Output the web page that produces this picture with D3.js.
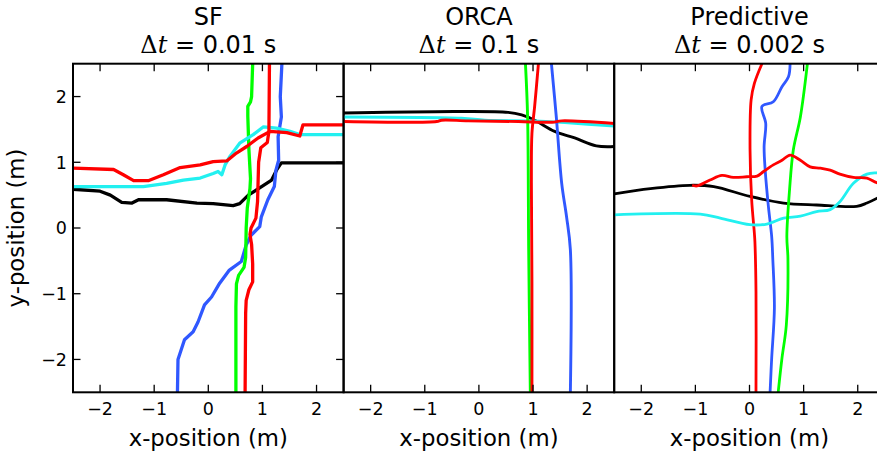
<!DOCTYPE html>
<html>
<head>
<meta charset="utf-8">
<script src="https://cdn.jsdelivr.net/npm/d3@7"></script>
<style>
  body { margin: 0; background: #fff; }
  svg { display: block; font-family: "DejaVu Sans", sans-serif; }
</style>
</head>
<body>
<svg id="chart"></svg>
<script>
// panel titles
const panelNames = ["SF", "ORCA", "Predictive"];
const panelSteps = ["0.01", "0.1", "0.002"];
const xTicks = [-2, -1, 0, 1, 2];
const yTicks = [-2, -1, 0, 1, 2];

// ---- SF trajectories [x, y] in m ----
const sfBlack = [[-2.5,0.59],[-2.0,0.56],[-1.81,0.50],[-1.6,0.39],[-1.41,0.38],[-1.29,0.43],[-0.77,0.43],[-0.21,0.38],[0.09,0.37],[0.46,0.34],[0.58,0.37],[0.74,0.50],[1.02,0.65],[1.17,0.73],[1.26,0.88],[1.35,0.99],[2.5,0.99]];
const sfCyan = [[-2.5,0.63],[-1.2,0.63],[-0.77,0.68],[-0.46,0.73],[-0.15,0.76],[0.09,0.83],[0.18,0.86],[0.25,0.81],[0.31,0.96],[0.40,1.09],[0.58,1.29],[0.83,1.42],[1.02,1.54],[1.26,1.52],[1.51,1.47],[1.69,1.42],[2.5,1.42]];
const sfBlue = [[-0.57,-2.5],[-0.56,-2.0],[-0.44,-1.7],[-0.28,-1.58],[-0.19,-1.43],[-0.07,-1.17],[0.06,-1.05],[0.21,-0.84],[0.39,-0.64],[0.61,-0.51],[0.70,-0.26],[0.79,-0.11],[0.95,0.02],[0.98,0.17],[1.10,0.43],[1.22,0.63],[1.25,0.88],[1.30,1.03],[1.29,1.39],[1.35,1.69],[1.33,2.0],[1.36,2.5]];
const sfGreen = [[0.51,-2.5],[0.51,-1.2],[0.52,-0.85],[0.56,-0.72],[0.66,-0.6],[0.69,-0.45],[0.70,0.0],[0.72,0.3],[0.77,0.6],[0.78,0.75],[0.75,1.2],[0.73,1.7],[0.73,1.85],[0.78,1.92],[0.80,2.0],[0.82,2.5]];
const sfRedV = [[0.68,-2.5],[0.69,-1.3],[0.70,-1.1],[0.75,-0.94],[0.82,-0.82],[0.82,-0.55],[0.80,-0.25],[0.77,-0.1],[0.79,0.0],[0.88,0.15],[0.91,0.4],[0.93,1.0],[0.97,1.22],[1.09,1.3],[1.12,1.47],[1.13,2.5]];
const sfRedH = [[-2.5,0.91],[-1.75,0.89],[-1.57,0.81],[-1.38,0.72],[-1.11,0.72],[-0.83,0.81],[-0.52,0.92],[-0.15,0.96],[0.09,1.01],[0.34,1.02],[0.52,1.14],[0.71,1.24],[0.92,1.37],[1.14,1.47],[1.45,1.45],[1.69,1.40],[1.75,1.57],[2.5,1.57]];

// ---- ORCA trajectories ----
const orcaBlack = [[-2.5,1.75],[-0.81,1.77],[0.54,1.76],[0.79,1.72],[1.03,1.64],[1.40,1.47],[1.77,1.37],[2.17,1.25],[2.5,1.24]];
const orcaCyan = [[-2.5,1.69],[-0.32,1.67],[0.11,1.64],[1.03,1.63],[1.65,1.60],[2.5,1.55]];
const orcaBlue = [[1.34,2.5],[1.43,1.69],[1.53,0.68],[1.62,0.17],[1.69,-0.33],[1.69,-2.5]];
const orcaGreen = [[0.86,2.5],[0.90,1.69],[0.92,-0.33],[0.95,-2.5]];
const orcaRedV = [[1.10,2.5],[1.03,1.85],[0.98,1.44],[0.97,0.68],[0.98,-0.84],[0.98,-2.5]];
const orcaRedH = [[-2.5,1.62],[-0.78,1.62],[-0.69,1.64],[-0.2,1.63],[0.73,1.62],[1.35,1.61],[1.53,1.63],[2.5,1.59]];

// ---- Predictive trajectories ----
const predBlack = [[-2.5,0.52],[-1.83,0.60],[-1.10,0.65],[-0.66,0.63],[0.01,0.48],[0.63,0.38],[1.24,0.35],[1.98,0.33],[2.17,0.38],[2.35,0.45],[2.5,0.52]];
const predCyan = [[-2.5,0.20],[-0.91,0.21],[-0.54,0.15],[0.01,0.05],[0.32,0.06],[0.63,0.15],[0.94,0.18],[1.24,0.25],[1.49,0.28],[1.67,0.40],[1.92,0.68],[2.17,0.82],[2.35,0.84],[2.5,0.84]];
const predBlue = [[0.75,2.5],[0.72,2.3],[0.60,2.15],[0.44,1.92],[0.23,1.85],[0.30,1.59],[0.27,1.24],[0.29,0.88],[0.35,0.32],[0.41,-0.13],[0.43,-0.46],[0.46,-1.22],[0.41,-1.98],[0.38,-2.5]];
const predGreen = [[1.07,2.5],[0.94,1.69],[0.81,1.19],[0.74,0.58],[0.69,-0.13],[0.71,-0.46],[0.68,-1.48],[0.60,-1.98],[0.53,-2.5]];
const predRedV = [[0.23,2.5],[0.09,2.2],[0.03,1.95],[0.01,1.19],[0.04,0.43],[0.09,-0.08],[0.10,-0.21],[0.12,-0.97],[0.12,-2.5]];
const predRedH = [[-1.06,0.65],[-0.97,0.64],[-0.73,0.73],[-0.51,0.80],[-0.30,0.77],[-0.05,0.78],[0.14,0.79],[0.26,0.86],[0.44,0.96],[0.60,1.03],[0.75,1.11],[0.94,1.03],[1.12,0.93],[1.31,0.91],[1.49,0.88],[1.67,0.82],[1.92,0.77],[2.17,0.76],[2.35,0.69],[2.5,0.68]];

const colors = { black: "#000000", cyan: "#22f0f0", blue: "#3058ff", green: "#00ff00", red: "#ff0000" };

const panels = [
  { lines: [[sfBlack, "black"], [sfBlue, "blue"], [sfGreen, "green"], [sfCyan, "cyan"], [sfRedV, "red"], [sfRedH, "red"]], lw: 3.3, yAxis: true, curve: d3.curveLinear },
  { lines: [[orcaBlack, "black"], [orcaCyan, "cyan"], [orcaBlue, "blue"], [orcaGreen, "green"], [orcaRedV, "red"], [orcaRedH, "red"]], lw: 2.9, yAxis: false, curve: d3.curveCatmullRom.alpha(0.5) },
  { lines: [[predBlack, "black"], [predBlue, "blue"], [predRedV, "red"], [predCyan, "cyan"], [predGreen, "green"], [predRedH, "red"]], lw: 2.8, yAxis: false, curve: d3.curveCatmullRom.alpha(0.5) }
];

const width = 877, height = 454;
const svg = d3.select("#chart").attr("width", width).attr("height", height);
svg.append("rect").attr("width", width).attr("height", height).attr("fill", "#fff");

const plotLeft = 73, plotW = 270.6, plotTop = 63.7, plotBottom = 392.3;
const tickLen = 7.5;

const y = d3.scaleLinear().domain([-2.5, 2.5]).range([plotBottom, plotTop]);

panels.forEach((p, i) => {
  const left = plotLeft + i * plotW;
  const x = d3.scaleLinear().domain([-2.5, 2.5]).range([left, left + plotW]);
  const g = svg.append("g");

  g.append("clipPath").attr("id", "clip" + i)
    .append("rect").attr("x", left).attr("y", plotTop)
    .attr("width", plotW).attr("height", plotBottom - plotTop);

  const line = d3.line().x(d => x(d[0])).y(d => y(d[1])).curve(p.curve);

  p.lines.forEach(([pts, c]) => {
    g.append("path")
      .datum(pts)
      .attr("clip-path", `url(#clip${i})`)
      .attr("fill", "none")
      .attr("stroke", colors[c])
      .attr("stroke-width", p.lw)
      .attr("stroke-linejoin", "round")
      .attr("d", line);
  });

  // ticks pointing inward, top and bottom
  const ax = g.append("g").attr("stroke", "#000").attr("stroke-width", 1.3);
  xTicks.forEach(t => {
    ax.append("line").attr("x1", x(t)).attr("x2", x(t)).attr("y1", plotBottom).attr("y2", plotBottom - tickLen);
    ax.append("line").attr("x1", x(t)).attr("x2", x(t)).attr("y1", plotTop).attr("y2", plotTop + tickLen);
  });
  if (p.yAxis) {
    yTicks.forEach(t => {
      ax.append("line").attr("x1", left).attr("x2", left + tickLen).attr("y1", y(t)).attr("y2", y(t));
      ax.append("line").attr("x1", left + plotW).attr("x2", left + plotW - tickLen).attr("y1", y(t)).attr("y2", y(t));
    });
    g.selectAll(".ylab").data(yTicks).join("text")
      .attr("x", left - 6).attr("y", d => y(d)).attr("dy", "0.36em")
      .attr("text-anchor", "end").style("font-size", "17.5px")
      .text(d => d3.format("d")(d));
    svg.append("text")
      .attr("transform", `translate(24, ${(plotTop + plotBottom) / 2}) rotate(-90)`)
      .attr("text-anchor", "middle").style("font-size", "22.8px")
      .text("y-position (m)");
  }

  g.selectAll(".xlab").data(xTicks).join("text")
    .attr("x", d => x(d)).attr("y", 415)
    .attr("text-anchor", "middle").style("font-size", "17.5px")
    .text(d => d3.format("d")(d));

  // frame
  g.append("rect").attr("x", left).attr("y", plotTop).attr("width", plotW).attr("height", plotBottom - plotTop)
    .attr("fill", "none").attr("stroke", "#000").attr("stroke-width", 2);

  const cx = left + plotW / 2;
  g.append("text").attr("x", cx).attr("y", 445.5).attr("text-anchor", "middle")
    .style("font-size", "22.8px").text("x-position (m)");

  g.append("text").attr("x", cx).attr("y", 25).attr("text-anchor", "middle")
    .style("font-size", "24px").text(panelNames[i]);
  const t2 = g.append("text").attr("x", cx).attr("y", 53).attr("text-anchor", "middle")
    .style("font-size", "24px");
  t2.append("tspan").style("font-family", "'DejaVu Serif', serif").text("Δ");
  t2.append("tspan").style("font-family", "'DejaVu Serif', serif").style("font-style", "italic").text("t");
  t2.append("tspan").text(" = " + panelSteps[i] + " s");
});
</script>
</body>
</html>
